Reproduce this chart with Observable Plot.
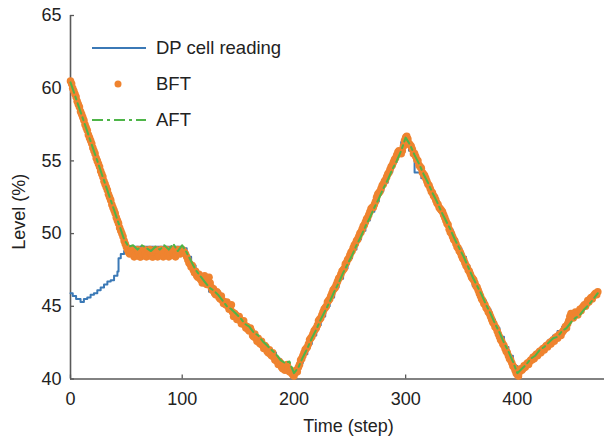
<!DOCTYPE html>
<html><head><meta charset="utf-8">
<script src="https://cdn.jsdelivr.net/npm/d3@7"></script>
<script src="https://cdn.jsdelivr.net/npm/@observablehq/plot@0.6"></script>
<style>body{margin:0;background:#fff}</style>
</head><body><div id="chart"></div>
<script>
const xTicks = [0, 100, 200, 300, 400];
const yTicks = [40, 45, 50, 55, 60, 65];
const seriesNames = ["DP cell reading", "BFT", "AFT"];
const xLabel = "Time (step)";
const yLabel = "Level (%)";

// DP cell reading: step points (time, level)
const dpTime = [0,2,5,9,12,15,18,21,24,27,30,33,36,39,42,43,45,48,50,52,100,104,108,112,116,120,124,128,132,136,140,144,148,152,156,160,164,168,172,176,180,184,188,192,196,200,204,208,212,216,220,224,228,232,236,240,244,248,252,256,260,264,268,272,276,280,284,288,292,296,299,303,308,314,318,322,326,330,334,338,342,346,350,354,357,360,364,368,372,376,380,384,388,392,396,400,404,408,412,416,420,424,428,432,436,440,444,448,452,456,460,464,468,472];
const dpLevel = [45.9,45.7,45.5,45.3,45.5,45.6,45.8,45.9,46.1,46.3,46.5,46.7,46.8,47.1,47.4,48.3,48.6,48.8,49.0,49.1,
  49.0,48.4,47.8,47.1,46.8,46.4,46.0,45.8,45.5,45.2,44.8,44.5,44.2,43.9,43.6,43.3,43.0,42.7,42.4,42.1,41.8,41.4,41.1,40.8,40.5,
  40.5,41.1,41.7,42.4,43.0,43.7,44.3,45.0,45.6,46.3,46.9,47.6,48.3,48.9,49.6,50.2,50.9,51.5,52.2,52.9,53.5,54.2,54.9,55.6,56.3,
  56.8,55.7,54.2,
  53.8,53.3,52.7,52.1,51.5,50.9,50.3,49.6,49.0,48.4,47.8,
  47.2,46.4,
  45.8,45.4,44.8,44.1,43.5,42.9,42.2,41.6,40.9,40.4,40.8,41.2,41.5,41.8,42.1,42.4,42.7,43.0,43.3,43.6,43.9,44.2,44.5,44.8,45.1,45.4,45.7,45.9];

// BFT: one value every step, from step 0
const bftEvery = 1;
const bftLevel = [
  60.5,60.3,60.0,59.8,59.6,59.4,59.1,58.9,58.7,58.4,58.2,58.0,57.8,57.5,57.3,57.1,56.8,56.6,56.4,56.2, // 0-19
  55.9,55.7,55.5,55.2,55.0,54.8,54.6,54.3,54.1,53.9,53.6,53.4,53.2,53.0,52.7,52.5,52.3,52.0,51.8,51.6, // 20-39
  51.4,51.1,50.9,50.7,50.4,50.2,50.0,49.8,49.5,49.3,49.1,48.9,48.7,48.6,48.8,48.9,48.6,48.4,48.5,48.8, // 40-59
  48.9,48.7,48.4,48.4,48.6,48.8,48.9,48.6,48.4,48.5,48.8,48.9,48.6,48.4,48.4,48.7,48.9,48.7,48.4,48.5, // 60-79
  48.8,48.9,48.6,48.4,48.5,48.8,48.9,48.6,48.4,48.5,48.7,48.9,48.8,48.5,48.4,48.6,48.9,48.8,48.6,48.7, // 80-99
  48.9,48.8,48.7,48.6,48.4,48.2,48.0,47.9,47.7,47.8,47.5,47.3,47.4,47.1,47.0,47.2,46.9,46.8,46.6,46.9, // 100-119
  47.1,46.8,46.5,46.7,47.0,46.6,46.3,46.1,46.2,45.9,45.8,46.0,45.9,45.6,45.5,45.7,45.4,45.2,45.3,45.1, // 120-139
  45.3,45.0,44.8,44.9,45.1,44.6,44.3,44.5,44.4,44.1,44.2,44.3,44.0,43.8,43.9,44.0,43.7,43.5,43.6,43.4, // 140-159
  43.3,43.5,43.3,43.0,42.9,43.1,42.8,42.6,42.8,42.5,42.4,42.6,42.3,42.1,42.3,42.2,41.9,41.8,42.0,41.7, // 160-179
  41.6,41.8,41.5,41.3,41.4,41.2,41.0,41.2,41.1,40.8,40.7,40.9,40.6,40.8,41.0,40.7,40.5,40.6,40.4,40.3, // 180-199
  40.2,40.4,40.6,40.5,40.8,41.0,41.3,41.4,41.6,41.8,42.0,42.1,42.2,42.4,42.7,42.8,42.9,43.1,43.3,43.4, // 200-219
  43.5,43.7,44.0,44.1,44.2,44.4,44.6,44.8,44.9,45.0,45.3,45.4,45.5,45.7,45.9,46.1,46.2,46.3,46.5,46.7, // 220-239
  46.9,47.0,47.2,47.4,47.5,47.6,47.9,48.0,48.2,48.3,48.5,48.7,48.8,49.0,49.2,49.3,49.5,49.6,49.8,50.0, // 240-259
  50.1,50.3,50.5,50.6,50.8,51.0,51.1,51.3,51.5,51.7,51.8,51.8,52.0,52.2,52.5,52.7,52.8,52.9,53.1,53.3, // 260-279
  53.4,53.6,53.7,53.9,54.1,54.2,54.4,54.6,54.7,54.9,55.1,55.2,55.4,55.6,55.7,55.6,55.5,55.7,56.0,56.4, // 280-299
  56.6,56.7,56.5,56.2,56.1,56.0,55.8,55.5,55.5,55.3,55.1,55.0,54.7,54.6,54.5,54.2,54.1,54.0,53.8,53.6, // 300-319
  53.4,53.3,53.1,52.9,52.8,52.6,52.5,52.3,52.1,52.0,51.8,51.7,51.6,51.5,51.3,51.1,50.9,50.7,50.6,50.3, // 320-339
  50.1,50.0,49.8,49.6,49.5,49.3,49.1,49.0,48.8,48.7,48.5,48.3,48.2,48.0,47.8,47.7,47.5,47.4,47.2,47.0, // 340-359
  46.9,46.8,46.6,46.4,46.3,46.1,45.9,45.7,45.5,45.4,45.2,45.1,44.9,44.8,44.6,44.5,44.3,44.1,43.9,43.8, // 360-379
  43.6,43.5,43.3,43.1,42.9,42.7,42.6,42.4,42.3,42.1,41.9,41.8,41.6,41.4,41.3,41.1,40.9,40.8,40.6,40.4, // 380-399
  40.3,40.2,40.5,40.7,40.6,40.7,40.9,40.8,41.0,41.1,41.0,41.2,41.3,41.3,41.5,41.4,41.6,41.7,41.6,41.8, // 400-419
  41.9,41.8,42.0,42.1,42.0,42.2,42.3,42.2,42.4,42.5,42.4,42.6,42.7,42.6,42.8,42.9,42.8,43.0,43.1,43.0, // 420-439
  43.2,43.3,43.4,43.6,43.5,43.8,44.0,44.3,44.5,44.3,44.2,44.4,44.6,44.5,44.4,44.6,44.8,44.7,44.9,45.0, // 440-459
  45.1,45.0,45.2,45.4,45.3,45.5,45.6,45.5,45.7,45.8,45.9,45.8,46.0                                   // 460-472
];

// AFT: one value every 4 steps, from step 0
const aftEvery = 4;
const aftLevel = [
  60.4, 59.5, 58.6, 57.7, 56.8, 55.9, 55.0, 54.1, 53.2, 52.3,   // 0-36
  51.4, 50.5, 49.6, 49.1, 49.2, 48.9, 49.2, 49.0, 48.8, 49.1,   // 40-76
  48.9, 49.2, 48.9, 49.3, 48.8, 49.2, 48.7, 48.1, 47.5, 47.1,   // 80-116
  46.7, 46.3, 46.1, 45.8, 45.4, 45.0, 44.8, 44.5, 44.2, 43.8,   // 120-156
  43.6, 43.2, 43.0, 42.6, 42.3, 42.0, 41.7, 41.3, 41.1, 41.2,   // 160-196
  40.4, 40.8, 41.5, 42.1, 42.8, 43.4, 44.1, 44.7, 45.3, 46.0,   // 200-236
  46.6, 47.3, 47.9, 48.5, 49.2, 49.8, 50.5, 51.1, 51.8, 52.4,   // 240-276
  53.1, 53.7, 54.4, 55.0, 55.7, 56.6, 56.1, 55.4, 54.8, 54.1,   // 280-316
  53.5, 52.8, 52.2, 51.5, 50.9, 50.3, 49.6, 49.0, 48.4, 47.7,   // 320-356
  47.0, 46.4, 45.8, 45.1, 44.5, 43.8, 43.2, 42.5, 41.9, 41.2,   // 360-396
  40.4, 40.7, 41.0, 41.4, 41.6, 42.0, 42.2, 42.5, 42.8, 42.9,   // 400-436
  43.3, 43.5, 43.9, 44.2, 44.4, 44.8, 45.1, 45.5, 45.9          // 440-472
];

const colors = {dp: "#3b79b6", bft: "#ef832f", aft: "#4eb548"};
const axisColor = "#595959";

const dp = dpTime.map((t, i) => ({t, v: dpLevel[i]}));
const bft = bftLevel.map((v, i) => ({t: i * bftEvery, v}));
const aft = aftLevel.map((v, i) => ({t: i * aftEvery, v}));

function legend(index, scales, values, dims) {
  const g = d3.create("svg:g").attr("font-size", 18.5).attr("text-anchor", "start");
  const rows = [
    {name: seriesNames[0], kind: "line", color: colors.dp, y: 48},
    {name: seriesNames[1], kind: "dot", color: colors.bft, y: 84},
    {name: seriesNames[2], kind: "dash", color: colors.aft, y: 120}
  ];
  for (const r of rows) {
    if (r.kind === "dot") {
      g.append("circle").attr("cx", 118).attr("cy", r.y).attr("r", 3.5).attr("fill", r.color);
    } else {
      g.append("line").attr("x1", 92).attr("x2", 146).attr("y1", r.y).attr("y2", r.y)
        .attr("stroke", r.color).attr("stroke-width", 2)
        .attr("stroke-dasharray", r.kind === "dash" ? "11,4,3,4" : null);
    }
    g.append("text").attr("x", 156).attr("y", r.y).attr("dy", "0.35em")
      .attr("text-anchor", "start").attr("fill", "#222").text(r.name);
  }
  return g.node();
}

function yTitle(index, scales, values, dims) {
  const cy = dims.marginTop + (dims.height - dims.marginTop - dims.marginBottom) / 2 + 15;
  const cx = dims.marginLeft - 51;
  const t = d3.create("svg:text")
    .attr("transform", `translate(${cx},${cy}) rotate(-90)`)
    .attr("text-anchor", "middle").attr("dy", "0.35em")
    .attr("font-size", 18).attr("fill", "#222").text(yLabel);
  return t.node();
}

const chart = Plot.plot({
  width: 606,
  height: 438,
  marginLeft: 70,
  marginTop: 15,
  marginRight: 2,
  marginBottom: 59.5,
  x: {domain: [0, 478]},
  y: {domain: [40, 65]},
  style: {fontFamily: "'Liberation Sans', Arial, sans-serif", fontSize: "18px", color: "#222", background: "white"},
  marks: [
    Plot.axisY(yTicks, {tickSize: 0, tickPadding: 9, label: null, fill: "#222"}),
    Plot.axisY(yTicks, {tickSize: -4, tickFormat: () => "", label: null, stroke: axisColor, strokeWidth: 1.3}),
    Plot.axisX(xTicks, {tickSize: 0, tickPadding: 13, label: null, fill: "#222"}),
    Plot.axisX(xTicks, {tickSize: -4, tickFormat: () => "", label: null, stroke: axisColor, strokeWidth: 1.3}),
    Plot.ruleY([40], {stroke: axisColor, strokeWidth: 1.6}),
    Plot.ruleX([0], {stroke: axisColor, strokeWidth: 1.6}),
    Plot.text([xLabel], {frameAnchor: "bottom", dx: 11, dy: 53, fontSize: 18, fill: "#222"}),
    yTitle,
    Plot.line(dp, {x: "t", y: "v", curve: "step-after", stroke: colors.dp, strokeWidth: 2}),
    Plot.dot(bft, {x: "t", y: "v", r: 3.8, fill: colors.bft, stroke: null}),
    Plot.line(aft, {x: "t", y: "v", stroke: colors.aft, strokeWidth: 2, strokeDasharray: "11,4,3,4"}),
    legend
  ]
});
document.getElementById("chart").append(chart);
</script>
</body></html>
